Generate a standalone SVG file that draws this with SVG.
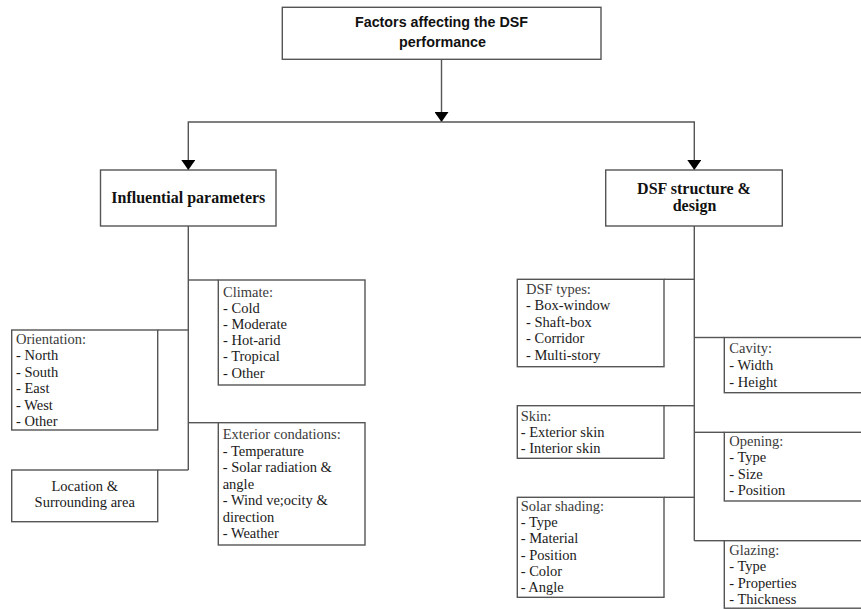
<svg xmlns="http://www.w3.org/2000/svg" width="861" height="609" viewBox="0 0 861 609">
<defs>
<marker id="arr" viewBox="0 0 10 14" refX="10" refY="7" markerWidth="10" markerHeight="14" markerUnits="userSpaceOnUse" orient="auto">
<path d="M0,0 L10,7 L0,14 z" fill="#000"/>
</marker>
<style>
.box{fill:#fff;stroke:#555;stroke-width:1.4}
.ln{fill:none;stroke:#555;stroke-width:1.4}
.t{font-family:"Liberation Serif","Times New Roman",serif;font-size:14.5px;fill:#1a1a1a}
.h{fill:#3a3a3a}
.hd{font-family:"Liberation Serif","Times New Roman",serif;font-size:16px;font-weight:bold;fill:#111;text-anchor:middle}
.ti{font-family:"Liberation Sans",Arial,sans-serif;font-size:15px;font-weight:bold;fill:#111;text-anchor:middle}
</style>
</defs>
<rect width="861" height="609" fill="#fff"/>

<g id="connectors">
<path class="ln" d="M441.5,59.3 V122" marker-end="url(#arr)"/>
<path class="ln" d="M441.5,122 H188.3 V170" marker-end="url(#arr)"/>
<path class="ln" d="M441.5,122 H694.3 V170" marker-end="url(#arr)"/>
<path class="ln" d="M188.3,226 V470"/>
<path class="ln" d="M188.3,280 H218.3"/>
<path class="ln" d="M157.7,330 H188.3"/>
<path class="ln" d="M188.3,422.7 H218.3"/>
<path class="ln" d="M157.7,470 H188.3"/>
<path class="ln" d="M694.3,226 V540.7"/>
<path class="ln" d="M664,279.3 H694.3"/>
<path class="ln" d="M694.3,337.5 H724.3"/>
<path class="ln" d="M664,405.7 H694.3"/>
<path class="ln" d="M694.3,432.3 H724.3"/>
<path class="ln" d="M664,497.3 H694.3"/>
<path class="ln" d="M694.3,540.7 H724.3"/>
</g>

<g id="root">
<rect class="box" x="282.3" y="7.3" width="318.7" height="52"/>
<text class="ti" x="441.5" y="27.3" textLength="173" lengthAdjust="spacingAndGlyphs">Factors affecting the DSF</text>
<text class="ti" x="442.5" y="46.5" textLength="87" lengthAdjust="spacingAndGlyphs">performance</text>
</g>

<g id="influential">
<rect class="box" x="100.5" y="170" width="175.5" height="56"/>
<text class="hd" x="188.3" y="202.5" textLength="154" lengthAdjust="spacingAndGlyphs">Influential parameters</text>
</g>

<g id="structure">
<rect class="box" x="605.7" y="170" width="176.6" height="56"/>
<text class="hd" x="694" y="194">DSF structure &amp;</text>
<text class="hd" x="694.5" y="211">design</text>
</g>

<g id="climate">
<rect class="box" x="218.3" y="280" width="146.7" height="105"/>
<text class="t" x="223" y="296.5"><tspan class="h">Climate:</tspan><tspan x="223" dy="16.2">- Cold</tspan><tspan x="223" dy="16.2">- Moderate</tspan><tspan x="223" dy="16.2">- Hot-arid</tspan><tspan x="223" dy="16.2">- Tropical</tspan><tspan x="223" dy="16.2">- Other</tspan></text>
</g>

<g id="orientation">
<rect class="box" x="11.7" y="330" width="146" height="100"/>
<text class="t" x="16" y="343.5"><tspan class="h">Orientation:</tspan><tspan x="16" dy="16.5">- North</tspan><tspan x="16" dy="16.5">- South</tspan><tspan x="16" dy="16.5">- East</tspan><tspan x="16" dy="16.5">- West</tspan><tspan x="16" dy="16.5">- Other</tspan></text>
</g>

<g id="exterior">
<rect class="box" x="218.3" y="422.7" width="146.7" height="122.3"/>
<text class="t" x="222.7" y="439"><tspan class="h">Exterior condations:</tspan><tspan x="222.7" dy="16.5">- Temperature</tspan><tspan x="222.7" dy="16.5">- Solar radiation &amp;</tspan><tspan x="222.7" dy="16.5">angle</tspan><tspan x="222.7" dy="16.5">- Wind ve;ocity &amp;</tspan><tspan x="222.7" dy="16.5">direction</tspan><tspan x="222.7" dy="16.5">- Weather</tspan></text>
</g>

<g id="location">
<rect class="box" x="11.7" y="470" width="146" height="51.7"/>
<text class="t" x="84.7" y="490.7" text-anchor="middle">Location &amp;</text>
<text class="t" x="84.7" y="507.3" text-anchor="middle">Surrounding area</text>
</g>

<g id="dsf-types">
<rect class="box" x="517.3" y="279.3" width="146.7" height="87.4"/>
<text class="t" x="526" y="293.5"><tspan class="h">DSF types:</tspan><tspan x="526" dy="16.5">- Box-window</tspan><tspan x="526" dy="16.5">- Shaft-box</tspan><tspan x="526" dy="16.5">- Corridor</tspan><tspan x="526" dy="16.5">- Multi-story</tspan></text>
</g>

<g id="skin">
<rect class="box" x="517.3" y="405.7" width="146.7" height="52.6"/>
<text class="t" x="520.7" y="421"><tspan class="h">Skin:</tspan><tspan x="520.7" dy="16.2">- Exterior skin</tspan><tspan x="520.7" dy="16.2">- Interior skin</tspan></text>
</g>

<g id="solar-shading">
<rect class="box" x="517.3" y="497.3" width="146.7" height="100"/>
<text class="t" x="520.7" y="510.7"><tspan class="h">Solar shading:</tspan><tspan x="520.7" dy="16.3">- Type</tspan><tspan x="520.7" dy="16.3">- Material</tspan><tspan x="520.7" dy="16.3">- Position</tspan><tspan x="520.7" dy="16.3">- Color</tspan><tspan x="520.7" dy="16.3">- Angle</tspan></text>
</g>

<g id="cavity">
<rect class="box" x="724.3" y="337.5" width="150" height="55.2"/>
<text class="t" x="729.3" y="353.3"><tspan class="h">Cavity:</tspan><tspan x="729.3" dy="16.6">- Width</tspan><tspan x="729.3" dy="16.6">- Height</tspan></text>
</g>

<g id="opening">
<rect class="box" x="724.3" y="432.3" width="150" height="68.7"/>
<text class="t" x="729.3" y="445.5"><tspan class="h">Opening:</tspan><tspan x="729.3" dy="16.5">- Type</tspan><tspan x="729.3" dy="16.5">- Size</tspan><tspan x="729.3" dy="16.5">- Position</tspan></text>
</g>

<g id="glazing">
<rect class="box" x="724.3" y="540.7" width="150" height="67.5"/>
<text class="t" x="729.3" y="554.5"><tspan class="h">Glazing:</tspan><tspan x="729.3" dy="16.5">- Type</tspan><tspan x="729.3" dy="16.5">- Properties</tspan><tspan x="729.3" dy="16.5">- Thickness</tspan></text>
</g>
</svg>
